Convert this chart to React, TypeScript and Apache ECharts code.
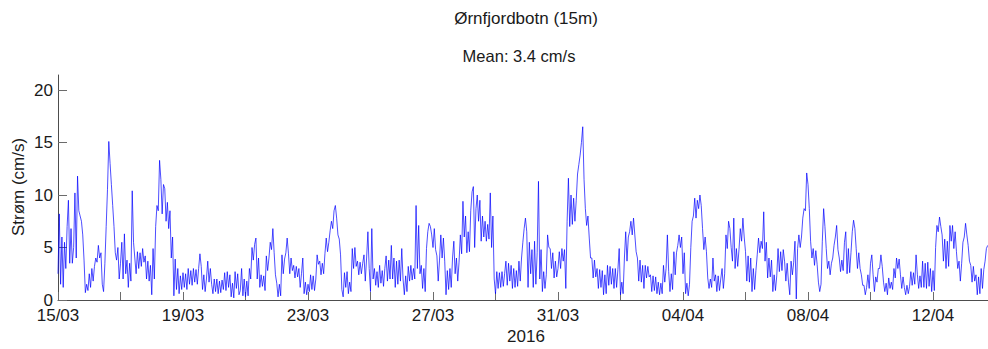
import React, { useEffect, useRef } from "react";
import * as echarts from "echarts";

// Hourly current speed (cm/s), starting 15/03/2016 00:00
const week1 = [
  2.5, 8.2, 1.5, 6.0, 1.2, 5.5, 3.0, 7.0, 9.5, 3.5, 6.8, 3.5, 5.0, 10.2, 4.0, 11.8, 8.5, 8.0, 7.5, 6.2, 3.8, 0.7, 1.5, 0.9,
  2.5, 1.2, 3.0, 1.8, 3.2, 4.0, 3.6, 5.2, 4.0, 4.5, 1.5, 0.8, 3.5, 7.0, 10.5, 15.1, 13.0, 11.0, 9.0, 7.0, 4.5, 3.8, 5.0, 2.0,
  3.5, 5.5, 2.0, 6.3, 2.5, 3.8, 1.2, 3.5, 1.8, 10.4, 5.5, 4.0, 2.5, 4.6, 3.0, 4.5, 3.2, 4.9, 3.6, 4.2, 2.0, 3.7, 1.8, 3.3,
  0.5, 4.9, 2.0, 7.0, 9.0, 8.5, 13.3, 11.5, 8.2, 11.0, 10.6, 7.5, 9.3, 6.8, 8.5, 4.0, 6.0, 0.4, 3.9, 1.0, 3.0, 0.6, 2.3, 1.0,
  2.6, 1.2, 2.5, 1.0, 3.0, 1.5, 2.8, 1.4, 3.0, 1.7, 2.9, 1.5, 3.0, 4.4, 3.2, 1.0, 2.4, 0.8, 2.0, 3.7, 1.7, 3.0, 1.5, 0.6,
  2.0, 0.8, 2.0, 0.6, 1.8, 0.7, 1.9, 1.0, 2.6, 0.9, 2.7, 1.2, 2.4, 0.3, 1.6, 0.2, 2.7, 1.1, 2.5, 0.5, 0.9, 3.0, 0.4, 2.0,
  0.3, 1.8, 0.4, 3.0, 2.0, 5.0, 3.8, 5.3, 5.9, 2.0, 4.0, 1.2, 2.4, 1.3, 2.3, 0.9, 4.2, 2.8, 4.0, 5.5, 4.8, 6.8, 4.5, 2.4,
];
const week2 = [
  1.6, 0.3, 1.5, 0.4, 4.3, 2.5, 3.9, 4.5, 5.9, 4.4, 2.5, 4.0, 2.8, 3.3, 2.1, 3.2, 2.2, 3.0, 1.2, 2.5, 4.0, 0.6, 1.7, 0.5,
  1.5, 0.8, 2.4, 1.0, 2.3, 0.9, 2.0, 4.3, 3.4, 3.7, 2.4, 3.5, 2.5, 4.4, 5.9, 4.6, 5.5, 6.6, 7.5, 6.8, 8.5, 9.0, 7.8, 6.2,
  5.8, 4.3, 1.0, 0.3, 2.6, 1.2, 2.7, 0.6, 1.7, 0.8, 4.9, 3.0, 5.0, 3.2, 3.7, 2.4, 3.6, 2.5, 3.5, 4.3, 1.8, 4.0, 6.5, 3.0,
  0.8, 6.8, 2.0, 3.0, 1.4, 2.7, 1.2, 3.3, 1.6, 2.8, 1.3, 3.0, 4.2, 1.8, 3.8, 2.0, 5.2, 2.0, 4.0, 1.2, 3.7, 1.5, 3.8, 1.8,
  4.9, 2.0, 0.5, 2.3, 0.8, 3.2, 1.8, 3.3, 1.9, 3.0, 2.0, 9.0, 3.0, 7.1, 2.5, 3.3, 1.1, 3.0, 0.8, 4.9, 6.5, 7.3, 7.0, 6.2,
  5.0, 6.8, 4.8, 4.2, 1.8, 3.8, 6.2, 4.0, 5.9, 3.7, 0.5, 2.8, 1.0, 3.0, 1.2, 4.0, 5.6, 2.5, 4.0, 1.8, 3.6, 6.2, 4.4, 9.4,
  6.0, 8.0, 4.5, 6.5, 4.6, 8.5, 10.3, 10.8, 5.0, 8.7, 10.0, 7.5, 9.5, 5.6, 8.0, 6.0, 7.5, 5.6, 7.2, 5.8, 10.2, 5.0, 8.0, 2.0,
];
const week3 = [
  0.6, 2.7, 1.1, 2.6, 1.2, 2.7, 1.3, 2.5, 3.7, 1.4, 3.5, 1.8, 3.3, 1.1, 3.0, 1.2, 2.8, 1.3, 3.7, 1.8, 4.0, 5.5, 6.8, 7.8,
  6.5, 1.2, 5.5, 2.5, 4.8, 1.2, 5.6, 1.5, 4.5, 11.3, 2.0, 4.8, 0.8, 2.7, 1.1, 2.4, 6.2, 5.0, 4.9, 3.0, 4.5, 2.1, 3.7, 2.2,
  3.0, 4.6, 3.0, 4.9, 3.7, 4.8, 1.1, 7.5, 11.6, 7.0, 10.0, 7.2, 9.7, 7.5, 9.5, 12.0, 12.9, 13.8, 15.0, 16.5, 11.5, 8.7, 7.1, 8.0,
  5.9, 4.0, 4.0, 2.1, 3.8, 2.2, 3.0, 1.1, 2.9, 1.2, 2.8, 0.5, 2.4, 0.6, 3.3, 1.4, 3.2, 1.5, 3.0, 1.1, 3.0, 1.2, 2.9, 4.9,
  0.5, 1.7, 0.6, 4.0, 6.5, 3.7, 6.0, 6.5, 7.5, 6.2, 7.8, 6.2, 4.6, 4.0, 1.8, 3.8, 1.7, 3.3, 1.1, 3.3, 2.1, 3.2, 2.2, 2.4,
  0.8, 2.3, 0.9, 2.2, 0.6, 1.7, 0.5, 1.6, 0.6, 3.3, 1.7, 3.0, 6.2, 2.7, 0.8, 2.5, 1.0, 4.6, 2.4, 4.5, 5.2, 6.2, 5.0, 6.0,
  2.5, 4.5, 0.6, 1.6, 0.4, 1.5, 5.0, 7.5, 8.0, 9.7, 7.8, 9.5, 8.7, 10.0, 9.0, 6.8, 4.8, 6.0, 4.6, 2.1, 1.1, 2.0, 1.2, 4.0,
];
const week4 = [
  1.8, 2.4, 0.8, 2.3, 0.9, 2.0, 3.0, 1.1, 2.5, 6.2, 4.9, 7.5, 6.8, 5.0, 3.7, 7.8, 3.0, 4.9, 3.2, 4.8, 6.8, 5.6, 7.8, 6.0,
  4.6, 1.8, 4.2, 1.7, 4.0, 0.8, 3.0, 1.0, 2.8, 4.3, 5.9, 4.5, 5.6, 4.9, 8.4, 3.7, 5.5, 2.1, 4.0, 2.2, 3.8, 0.8, 2.4, 0.9,
  2.3, 4.9, 2.7, 4.6, 2.8, 4.8, 3.7, 1.8, 3.5, 1.7, 0.5, 3.7, 2.4, 3.6, 5.6, 0.1, 4.9, 6.2, 5.0, 6.0, 7.8, 8.7, 8.5, 12.1,
  11.0, 8.7, 5.6, 4.0, 4.9, 3.3, 4.7, 3.4, 1.7, 0.8, 1.5, 5.6, 8.7, 7.0, 4.9, 3.0, 3.7, 2.4, 3.5, 4.0, 5.2, 6.0, 7.1, 4.8,
  4.0, 2.7, 3.8, 2.8, 5.5, 6.5, 2.5, 4.9, 2.6, 4.5, 6.5, 7.6, 6.8, 4.9, 3.0, 4.5, 3.0, 2.4, 1.4, 1.4, 0.5, 1.2, 2.4, 1.1,
  3.5, 4.3, 2.4, 0.8, 2.2, 1.7, 3.0, 3.0, 4.3, 3.2, 1.7, 0.8, 1.6, 0.5, 2.1, 1.1, 1.7, 1.0, 3.0, 2.1, 4.0, 3.0, 3.9, 2.4,
  1.1, 2.2, 1.2, 0.5, 1.4, 0.6, 1.3, 2.7, 1.4, 2.6, 1.5, 4.3, 2.4, 1.1, 2.3, 1.2, 3.7, 1.2, 3.5, 1.1, 3.6, 1.3, 3.0, 0.8,
];
const week5 = [
  2.8, 0.9, 5.0, 7.1, 6.5, 7.9, 7.0, 6.2, 3.7, 5.8, 3.0, 5.6, 3.2, 7.1, 5.6, 7.1, 4.9, 6.5, 4.6, 3.0, 3.7, 1.8, 3.5, 5.5,
  6.0, 7.3, 6.2, 5.2, 3.7, 3.3, 1.7, 3.2, 1.8, 2.4, 0.5, 2.2, 0.6, 3.0, 1.1, 2.9, 3.7, 4.9, 5.2,
];

const START_UTC = Date.UTC(2016, 2, 15);
const X_TICKS = [0, 2, 4, 6, 8, 10, 12, 14, 16, 18, 20, 22, 24, 26, 28];
const X_LABELS = [0, 4, 8, 12, 16, 20, 24, 28];
const Y_TICKS = [0, 5, 10, 15, 20];
const TITLE = "Ørnfjordbotn (15m)";
const SUBTITLE = "Mean: 3.4 cm/s";
const X_NAME = "2016";
const Y_NAME = "Strøm (cm/s)";

const FONT = "Liberation Sans, Arial, Helvetica, sans-serif";

function fmtDay(v: number): string {
  const d = new Date(START_UTC + Math.round(v * 86400000));
  const dd = String(d.getUTCDate()).padStart(2, "0");
  const mm = String(d.getUTCMonth() + 1).padStart(2, "0");
  return `${dd}/${mm}`;
}

export default function App() {
  const ref = useRef<HTMLDivElement>(null);
  useEffect(() => {
    if (!ref.current) return;
    const chart = echarts.init(ref.current, undefined, { renderer: "svg" });
    const values = [...week1, ...week2, ...week3, ...week4, ...week5];
    const data = values.map((v, i) => [i / 24, v]);
    chart.setOption({
      animation: false,
      backgroundColor: "#ffffff",
      grid: { left: 58, top: 75, width: 930, height: 225, containLabel: false },
      xAxis: {
        type: "value",
        min: 0,
        max: 29.76,
        interval: 2,
        splitLine: { show: false },
        axisLine: { show: true, onZero: false, lineStyle: { color: "#4d4d4d", width: 1 } },
        axisTick: { show: true, inside: true, length: 8, customValues: X_TICKS, lineStyle: { color: "#6b6b6b" } },
        axisLabel: {
          customValues: X_LABELS,
          formatter: (v: number) => fmtDay(v),
          color: "#1a1a1a",
          fontSize: 17,
          fontFamily: FONT,
          margin: 7,
        },
      },
      yAxis: {
        type: "value",
        min: 0,
        max: 21.43,
        interval: 5,
        splitLine: { show: false },
        axisLine: { show: true, onZero: false, lineStyle: { color: "#4d4d4d", width: 1 } },
        axisTick: { show: true, inside: true, length: 9, customValues: Y_TICKS, lineStyle: { color: "#6b6b6b" } },
        axisLabel: {
          customValues: Y_TICKS,
          color: "#1a1a1a",
          fontSize: 17,
          fontFamily: FONT,
          margin: 5,
        },
      },
      series: [
        {
          type: "line",
          data,
          showSymbol: false,
          symbol: "none",
          lineStyle: { color: "#0000ff", width: 0.7 },
          emphasis: { disabled: true },
        },
      ],
      graphic: [
        {
          type: "text",
          x: 526,
          y: 18,
          style: { text: TITLE, font: `17px ${FONT}`, fill: "#1a1a1a", textAlign: "center", textVerticalAlign: "middle" },
        },
        {
          type: "text",
          x: 519,
          y: 56,
          style: { text: SUBTITLE, font: `16.5px ${FONT}`, fill: "#1a1a1a", textAlign: "center", textVerticalAlign: "middle" },
        },
        {
          type: "text",
          x: 526,
          y: 336,
          style: { text: X_NAME, font: `17px ${FONT}`, fill: "#1a1a1a", textAlign: "center", textVerticalAlign: "middle" },
        },
        {
          type: "text",
          x: 18,
          y: 187,
          rotation: Math.PI / 2,
          style: { text: Y_NAME, font: `17px ${FONT}`, fill: "#1a1a1a", textAlign: "center", textVerticalAlign: "middle" },
        },
      ],
    });
    return () => chart.dispose();
  }, []);
  return (
    <div
      ref={ref}
      style={{ position: "fixed", left: 0, top: 0, width: 988, height: 349, background: "#fff" }}
    />
  );
}
